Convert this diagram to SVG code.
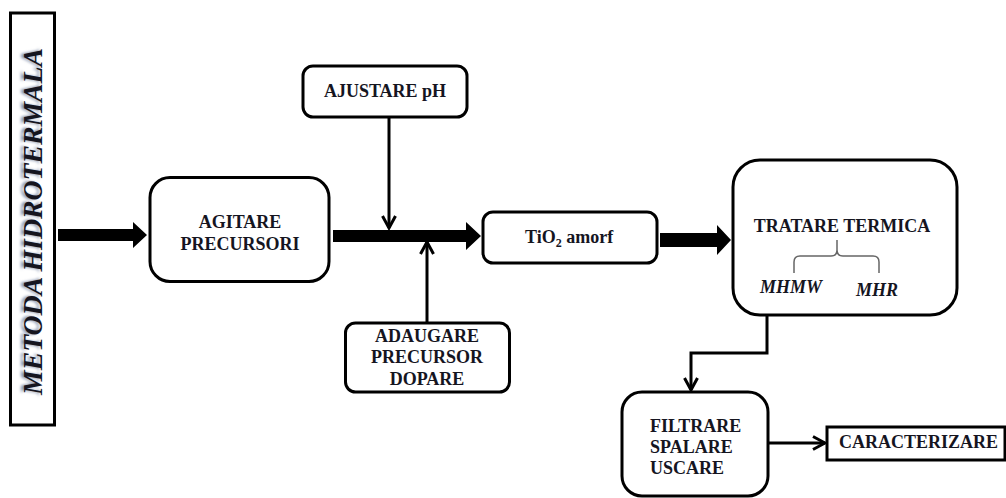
<svg xmlns="http://www.w3.org/2000/svg" width="1006" height="498" viewBox="0 0 1006 498">
<style>
.box{fill:#fff;stroke:#000;stroke-width:3}
.ln{fill:none;stroke:#000;stroke-width:3}
.thick{fill:#000}
</style>
<defs>
<marker id="v" markerUnits="userSpaceOnUse" markerWidth="16" markerHeight="16" viewBox="0 0 16 16" refX="13" refY="8" orient="auto">
<path d="M1,1.5 L13,8 L1,14.5" fill="none" stroke="#000" stroke-width="3"/>
</marker>
<filter id="sh" x="-20%" y="-5%" width="140%" height="110%">
<feGaussianBlur stdDeviation="1.5"/>
</filter>
</defs>
<rect width="1006" height="498" fill="#fff"/>
<g font-family="Liberation Serif, serif" font-weight="bold" font-size="18" fill="#15151f">
<g id="metoda">
<rect class="box" x="10.5" y="13" width="44" height="412"/>
<text transform="translate(39,395) rotate(-90)" font-style="italic" font-size="27" fill="#7d8ba8" filter="url(#sh)" textLength="347" lengthAdjust="spacingAndGlyphs">METODA  HIDROTERMALA</text>
<text transform="translate(42,395) rotate(-90)" font-style="italic" font-size="27" textLength="347" lengthAdjust="spacingAndGlyphs">METODA  HIDROTERMALA</text>
</g>

<g id="agitare">
<rect class="box" x="150" y="177.5" width="179" height="104" rx="20"/>
<text text-anchor="middle" x="240" y="228">AGITARE</text>
<text text-anchor="middle" x="240" y="250">PRECURSORI</text>
</g>

<g id="ajustare">
<rect class="box" x="303" y="66" width="164" height="51" rx="10"/>
<text text-anchor="middle" x="385" y="97">AJUSTARE pH</text>
</g>

<g id="adaugare">
<rect class="box" x="345.5" y="323" width="164" height="69" rx="10"/>
<text text-anchor="middle" x="427" y="342">ADAUGARE</text>
<text text-anchor="middle" x="427" y="363">PRECURSOR</text>
<text text-anchor="middle" x="427" y="385">DOPARE</text>
</g>

<g id="tio2">
<rect class="box" x="483" y="212" width="174" height="51" rx="10"/>
<text x="525" y="243">TiO<tspan font-size="12" dy="4">2</tspan><tspan dy="-4"> amorf</tspan></text>
</g>

<g id="tratare">
<rect class="box" x="733" y="160" width="224" height="155" rx="27"/>
<text text-anchor="middle" x="842" y="232">TRATARE TERMICA</text>
<path d="M794,273 L794,262 Q794,256 800,256 L831,256 Q837,256 837,250 L837,240 M837,250 Q837,256 843,256 L873,256 Q879,256 879,262 L879,273" fill="none" stroke="#666" stroke-width="1.5"/>
<text font-style="italic" x="760" y="293">MHMW</text>
<text font-style="italic" x="856" y="296">MHR</text>
</g>

<g id="filtrare">
<rect class="box" x="622" y="392" width="146" height="104" rx="20"/>
<text x="650" y="432">FILTRARE</text>
<text x="650" y="453">SPALARE</text>
<text x="650" y="474">USCARE</text>
</g>

<g id="caracterizare">
<rect class="box" x="827" y="427" width="178" height="33"/>
<text x="839" y="448">CARACTERIZARE</text>
</g>
</g>

<g id="connectors">
<polygon class="thick" points="58,229 133,229 133,222 147,235 133,248 133,241 58,241"/>
<polygon class="thick" points="333,230 466,230 466,222 481,236 466,250 466,242 333,242"/>
<polygon class="thick" points="660,233 717,233 717,225 731,240 717,255 717,247 660,247"/>
<path class="ln" d="M389,117 L389,228" marker-end="url(#v)"/>
<path class="ln" d="M427,323 L427,242" marker-end="url(#v)"/>
<path class="ln" d="M767,315 L767,353 L691,353 L691,390" marker-end="url(#v)"/>
<path class="ln" d="M768,443 L825,443" marker-end="url(#v)"/>
</g>
</svg>
